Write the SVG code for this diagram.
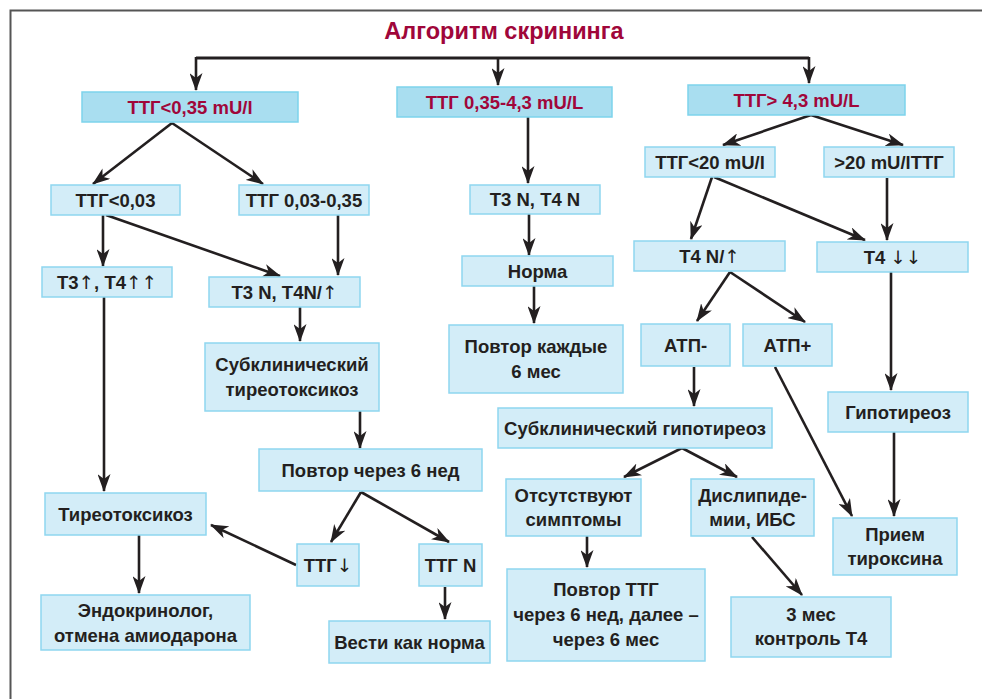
<svg xmlns="http://www.w3.org/2000/svg" width="982" height="699" viewBox="0 0 982 699">
<defs>
<marker id="ah" viewBox="0 0 18 13" refX="17" refY="6.5" markerWidth="18" markerHeight="13" markerUnits="userSpaceOnUse" orient="auto">
<path d="M0,0 L18,6.5 L0,13 L5,6.5 Z" fill="#231f20"/>
</marker>
</defs>
<style>
.b{fill:#d3edf8;stroke:#8ed6ef;stroke-width:1.5}
.bt{fill:#a9def0;stroke:#7dd3ec;stroke-width:1.5}
text{font-family:"Liberation Sans",Arial,sans-serif;font-weight:bold;font-size:18.5px;fill:#231f20;text-anchor:middle}
.red{fill:#a0063a}
.title{font-size:23.5px;fill:#a0063a}
.ar{font-weight:normal;font-family:"DejaVu Sans","Liberation Sans",sans-serif}
.c{fill:none;stroke:#231f20;stroke-width:2.6;marker-end:url(#ah)}
.cn{fill:none;stroke:#231f20;stroke-width:3}
</style>
<rect width="982" height="699" fill="#ffffff"/>
<path d="M10.5,699 V10.5 H982" fill="none" stroke="#555" stroke-width="2"/>
<text class="title" x="504" y="39">Алгоритм скрининга</text>

<g id="connectors">
<path class="cn" d="M196,58 H809"/>
<path class="c" d="M196,57 V90"/>
<path class="c" d="M498,57 V85"/>
<path class="c" d="M809,57 V83"/>
<path class="c" d="M172,123 L93,184"/>
<path class="c" d="M172,123 L263,184"/>
<path class="c" d="M103,215 V266"/>
<path class="c" d="M106,215 L280,276"/>
<path class="c" d="M338,215 V275"/>
<path class="c" d="M104,297 V491"/>
<path class="c" d="M300,307 V341"/>
<path class="c" d="M360,411 V448"/>
<path class="c" d="M361,492 L331,542"/>
<path class="c" d="M361,492 L449,542"/>
<path class="c" d="M296,565 L211,525"/>
<path class="c" d="M139,535 V593"/>
<path class="c" d="M445,587 V619"/>
<path class="c" d="M528,117 V183"/>
<path class="c" d="M529,214 V255"/>
<path class="c" d="M534,286 V323"/>
<path class="c" d="M811,115 L723,145"/>
<path class="c" d="M811,115 L903,145"/>
<path class="c" d="M712,177 L691,239"/>
<path class="c" d="M714,177 L865,240"/>
<path class="c" d="M887,178 V240"/>
<path class="c" d="M730,272 L697,321"/>
<path class="c" d="M730,272 L805,322"/>
<path class="c" d="M891,272 V390"/>
<path class="c" d="M694,367 V406"/>
<path class="c" d="M775,367 L852,516"/>
<path class="c" d="M894,432 V516"/>
<path class="c" d="M682,448 L624,477"/>
<path class="c" d="M682,448 L737,477"/>
<path class="c" d="M587,536 V567"/>
<path class="c" d="M752,537 L802,595"/>
</g>

<g id="top1"><rect class="bt" x="82" y="92" width="216" height="30"/><text class="red" x="190" y="113.5">ТТГ&lt;0,35 mU/l</text></g>
<g id="top2"><rect class="bt" x="397" y="87" width="215" height="30"/><text class="red" x="504.5" y="108.5">ТТГ 0,35-4,3 mU/L</text></g>
<g id="top3"><rect class="bt" x="688" y="85" width="217" height="30"/><text class="red" x="796.5" y="106.5">ТТГ&gt; 4,3 mU/L</text></g>

<g id="n1"><rect class="b" x="51" y="185" width="129" height="30"/><text x="115.5" y="206.5">ТТГ&lt;0,03</text></g>
<g id="n2"><rect class="b" x="239" y="185" width="130" height="30"/><text x="304" y="206.5">ТТГ 0,03-0,35</text></g>
<g id="n3"><rect class="b" x="42" y="267" width="130" height="30"/><text x="107" y="288.5">Т3<tspan class="ar">↑</tspan>, Т4<tspan class="ar">↑↑</tspan></text></g>
<g id="n4"><rect class="b" x="209" y="277" width="151" height="30"/><text x="284.5" y="298.5">Т3 N, Т4N/<tspan class="ar">↑</tspan></text></g>
<g id="n5"><rect class="b" x="205" y="343" width="174" height="68"/><text x="292" y="371">Субклинический</text><text x="292" y="396">тиреотоксикоз</text></g>
<g id="n6"><rect class="b" x="259" y="449" width="223" height="42"/><text x="370.5" y="476.5">Повтор через 6 нед</text></g>
<g id="n7"><rect class="b" x="45" y="493" width="161" height="42"/><text x="125.5" y="520.5">Тиреотоксикоз</text></g>
<g id="n8"><rect class="b" x="297" y="544" width="62" height="42"/><text x="328" y="571.5">ТТГ<tspan class="ar">↓</tspan></text></g>
<g id="n9"><rect class="b" x="419" y="544" width="63" height="42"/><text x="450.5" y="571.5">ТТГ N</text></g>
<g id="n10"><rect class="b" x="41" y="595" width="209" height="55"/><text x="145.5" y="616.5">Эндокринолог,</text><text x="145.5" y="641.5">отмена амиодарона</text></g>
<g id="n11"><rect class="b" x="329" y="621" width="161" height="42"/><text x="409.5" y="648.5">Вести как норма</text></g>

<g id="m1"><rect class="b" x="470" y="185" width="130" height="29"/><text x="535" y="206">Т3 N, Т4 N</text></g>
<g id="m2"><rect class="b" x="462" y="256" width="151" height="30"/><text x="537.5" y="277.5">Норма</text></g>
<g id="m3"><rect class="b" x="449" y="325" width="174" height="68"/><text x="536" y="353">Повтор каждые</text><text x="536" y="378">6 мес</text></g>

<g id="r1"><rect class="b" x="645" y="147" width="130" height="30"/><text x="710" y="168.5">ТТГ&lt;20 mU/l</text></g>
<g id="r2"><rect class="b" x="824" y="147" width="130" height="30"/><text x="889" y="168.5">&gt;20 mU/lТТГ</text></g>
<g id="r3"><rect class="b" x="634" y="241" width="151" height="30"/><text x="709.5" y="262.5">Т4 N/<tspan class="ar">↑</tspan></text></g>
<g id="r4"><rect class="b" x="817" y="242" width="151" height="30"/><text x="892.5" y="263.5">Т4 <tspan class="ar">↓↓</tspan></text></g>
<g id="r5"><rect class="b" x="641" y="324" width="89" height="42"/><text x="685.5" y="351.5">АТП-</text></g>
<g id="r5b"><rect class="b" x="743" y="324" width="89" height="42"/><text x="787.5" y="351.5">АТП+</text></g>
<g id="r6"><rect class="b" x="498" y="408" width="274" height="40"/><text x="635" y="434.5">Субклинический гипотиреоз</text></g>
<g id="r7"><rect class="b" x="828" y="392" width="140" height="40"/><text x="898" y="418.5">Гипотиреоз</text></g>
<g id="r8"><rect class="b" x="506" y="479" width="135" height="57"/><text x="573.5" y="501.5">Отсутствуют</text><text x="573.5" y="525.5">симптомы</text></g>
<g id="r9"><rect class="b" x="691" y="479" width="123" height="57"/><text x="752.5" y="501.5">Дислипиде-</text><text x="752.5" y="525.5">мии, ИБС</text></g>
<g id="r10"><rect class="b" x="833" y="518" width="124" height="57"/><text x="895" y="540.5">Прием</text><text x="895" y="564.5">тироксина</text></g>
<g id="r11"><rect class="b" x="507" y="569" width="198" height="92"/><text x="606" y="596">Повтор ТТГ</text><text x="606" y="621">через 6 нед, далее –</text><text x="606" y="645.5">через 6 мес</text></g>
<g id="r12"><rect class="b" x="731" y="597" width="160" height="60"/><text x="811" y="621">3 мес</text><text x="811" y="645">контроль Т4</text></g>
</svg>
